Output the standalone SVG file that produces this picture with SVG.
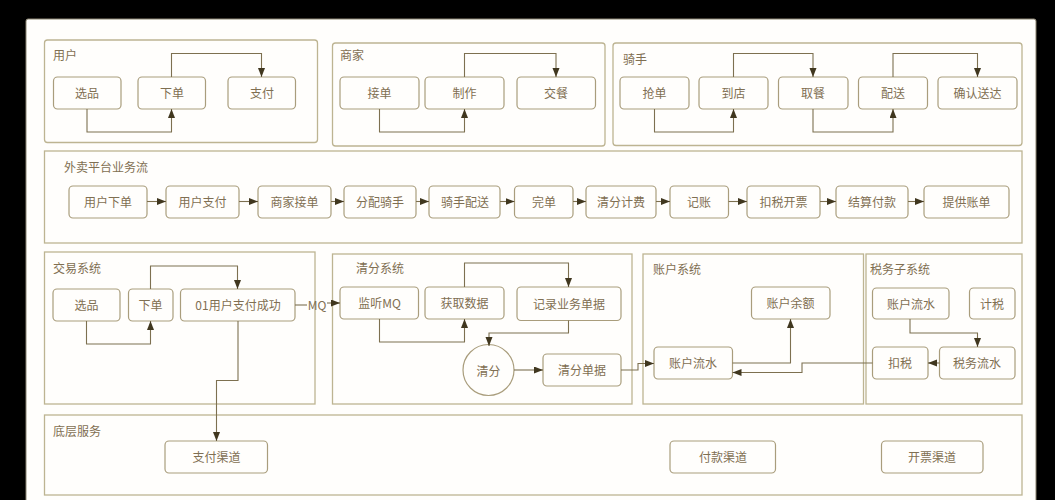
<svg xmlns="http://www.w3.org/2000/svg" width="1055" height="500" viewBox="0 0 1055 500">
<style>
.c{fill:#fffefc;stroke:#bdb492;stroke-width:1.3}
.n rect,.n circle{fill:#fffefc;stroke:#a99d7c;stroke-width:1.2}
text{font-family:"Noto Sans CJK SC","Noto Sans",sans-serif;font-size:12px;fill:#7f6f52;text-anchor:middle;transform:translateY(1px)}
text.t{text-anchor:start}
#connectors path{fill:none;stroke:#7d7050;stroke-width:1.1;marker-end:url(#a)}
#connectors path.p{marker-end:none}
</style>
<defs><marker id="a" markerUnits="userSpaceOnUse" markerWidth="10" markerHeight="8" refX="9" refY="3.5" orient="auto"><path d="M0 0L9 3.5L0 7Z" fill="#40371f"/></marker></defs>
<rect width="1055" height="500" fill="#000"/>
<rect x="26" y="19" width="1010" height="490" rx="2" fill="#fffefc" stroke="#8a8370"/>
<g id="containers">
<g id="c-user"><rect class="c" x="44.5" y="40" width="273" height="102.5" rx="3"/><text class="t" x="53" y="59">用户</text></g>
<g id="c-merchant"><rect class="c" x="332.5" y="43" width="272.5" height="103" rx="3"/><text class="t" x="340" y="59">商家</text></g>
<g id="c-rider"><rect class="c" x="613" y="43" width="409" height="102.5" rx="3"/><text class="t" x="623" y="63">骑手</text></g>
<g id="c-flow"><rect class="c" x="44.5" y="151" width="977.5" height="92"/><text class="t" x="64" y="171">外卖平台业务流</text></g>
<g id="c-trade"><rect class="c" x="44.5" y="252" width="270.5" height="152"/><text class="t" x="53" y="272">交易系统</text></g>
<g id="c-clear"><rect class="c" x="332.5" y="254" width="299.5" height="150"/><text class="t" x="356" y="272">清分系统</text></g>
<g id="c-account"><rect class="c" x="643" y="254" width="220.5" height="150"/><text class="t" x="653" y="273">账户系统</text></g>
<g id="c-tax"><rect class="c" x="866" y="254" width="156" height="150"/><text class="t" x="870" y="273">税务子系统</text></g>
<g id="c-base"><rect class="c" x="44.5" y="415" width="977.5" height="80"/><text class="t" x="53" y="435">底层服务</text></g>
</g>
<g id="n1" class="n"><rect x="53.5" y="77" width="67.5" height="32" rx="4"/><text x="87" y="97">选品</text></g>
<g id="n2" class="n"><rect x="138" y="77" width="67.5" height="32" rx="4"/><text x="172" y="97">下单</text></g>
<g id="n3" class="n"><rect x="228" y="77" width="67.5" height="32" rx="4"/><text x="262" y="97">支付</text></g>
<g id="n4" class="n"><rect x="340" y="77" width="79" height="32" rx="4"/><text x="379.5" y="97">接单</text></g>
<g id="n5" class="n"><rect x="425" y="77" width="79" height="32" rx="4"/><text x="464.5" y="97">制作</text></g>
<g id="n6" class="n"><rect x="517" y="77" width="78.500" height="32" rx="4"/><text x="556" y="97">交餐</text></g>
<g id="n7" class="n"><rect x="620" y="77" width="69" height="32" rx="4"/><text x="654.500" y="97">抢单</text></g>
<g id="n8" class="n"><rect x="699" y="77" width="69" height="32" rx="4"/><text x="733.500" y="97">到店</text></g>
<g id="n9" class="n"><rect x="778.500" y="77" width="69.500" height="32" rx="4"/><text x="813" y="97">取餐</text></g>
<g id="n10" class="n"><rect x="858.500" y="77" width="69" height="32" rx="4"/><text x="893" y="97">配送</text></g>
<g id="n11" class="n"><rect x="938" y="77" width="79" height="32" rx="4"/><text x="977.500" y="97">确认送达</text></g>
<g id="f1" class="n"><rect x="69" y="186" width="78" height="32" rx="4"/><text x="108" y="206">用户下单</text></g>
<g id="f2" class="n"><rect x="166" y="186" width="73" height="32" rx="4"/><text x="202.500" y="206">用户支付</text></g>
<g id="f3" class="n"><rect x="258" y="186" width="73" height="32" rx="4"/><text x="294.500" y="206">商家接单</text></g>
<g id="f4" class="n"><rect x="344" y="186" width="72" height="32" rx="4"/><text x="380" y="206">分配骑手</text></g>
<g id="f5" class="n"><rect x="429" y="186" width="71" height="32" rx="4"/><text x="465" y="206">骑手配送</text></g>
<g id="f6" class="n"><rect x="514.500" y="186" width="58.500" height="32" rx="4"/><text x="544" y="206">完单</text></g>
<g id="f7" class="n"><rect x="586" y="186" width="70" height="32" rx="4"/><text x="621" y="206">清分计费</text></g>
<g id="f8" class="n"><rect x="670" y="186" width="58.500" height="32" rx="4"/><text x="699" y="206">记账</text></g>
<g id="f9" class="n"><rect x="747" y="186" width="73" height="32" rx="4"/><text x="783.500" y="206">扣税开票</text></g>
<g id="f10" class="n"><rect x="836" y="186" width="72" height="32" rx="4"/><text x="872" y="206">结算付款</text></g>
<g id="f11" class="n"><rect x="924" y="186" width="85" height="32" rx="4"/><text x="966.500" y="206">提供账单</text></g>
<g id="t1" class="n"><rect x="53" y="289" width="67" height="32" rx="4"/><text x="86.500" y="309">选品</text></g>
<g id="t2" class="n"><rect x="128.500" y="289" width="44.500" height="32" rx="4"/><text x="150.500" y="309">下单</text></g>
<g id="t3" class="n"><rect x="180.500" y="289" width="114.500" height="32" rx="4"/><text x="238" y="309">01用户支付成功</text></g>
<g id="q1" class="n"><rect x="340" y="287" width="78.500" height="32" rx="4"/><text x="379.500" y="307">监听MQ</text></g>
<g id="q2" class="n"><rect x="425" y="287" width="79" height="32" rx="4"/><text x="464.500" y="307">获取数据</text></g>
<g id="q3" class="n"><rect x="517" y="287" width="104" height="33.500" rx="4"/><text x="569" y="308">记录业务单据</text></g>
<g id="q4" class="n"><circle cx="488.500" cy="370" r="25.500"/><text x="488.500" y="375">清分</text></g>
<g id="q5" class="n"><rect x="543" y="354" width="78" height="32" rx="4"/><text x="582" y="374">清分单据</text></g>
<g id="a1" class="n"><rect x="654" y="347" width="78.500" height="32" rx="4"/><text x="693" y="367">账户流水</text></g>
<g id="a2" class="n"><rect x="751.500" y="287" width="78.500" height="32" rx="4"/><text x="790.500" y="307">账户余额</text></g>
<g id="x1" class="n"><rect x="872.500" y="288" width="76.500" height="31" rx="4"/><text x="911" y="308">账户流水</text></g>
<g id="x2" class="n"><rect x="969.500" y="288" width="45.500" height="31" rx="4"/><text x="992" y="308">计税</text></g>
<g id="x3" class="n"><rect x="872.500" y="347" width="55.500" height="32" rx="4"/><text x="900" y="367">扣税</text></g>
<g id="x4" class="n"><rect x="939.500" y="347" width="75.500" height="32" rx="4"/><text x="977" y="367">税务流水</text></g>
<g id="b1" class="n"><rect x="165" y="441" width="102.500" height="32" rx="4"/><text x="216.500" y="461">支付渠道</text></g>
<g id="b2" class="n"><rect x="670" y="441" width="105.500" height="32" rx="4"/><text x="723" y="461">付款渠道</text></g>
<g id="b3" class="n"><rect x="881.500" y="441" width="101.500" height="32" rx="4"/><text x="932" y="461">开票渠道</text></g>
<g id="connectors">
<path d="M87 109V132H171.500V109"/>
<path d="M171.500 77V53.500H261.500V77"/>
<path d="M379.500 109V132H464.500V109"/>
<path d="M464.500 77V53.500H556V77"/>
<path d="M654.500 109V132H733.500V109"/>
<path d="M733.500 77V53.500H813V77"/>
<path d="M813 109V132H893V109"/>
<path d="M893 77V53.500H977.500V77"/>
<path d="M147 201.500H166"/><path d="M239 201.500H258"/><path d="M331 201.500H344"/><path d="M416 201.500H429"/><path d="M500 201.500H514.500"/><path d="M573 201.500H586"/><path d="M656 201.500H670"/><path d="M728.500 201.500H747"/><path d="M820 201.500H836"/><path d="M908 201.500H924"/>
<path d="M86.500 321V344H150.500V321"/>
<path d="M150.500 289V266H237.500V289"/>
<path d="M238 321V380.500H216.500V441"/>
<path class="p" d="M295 305H307"/>
<path d="M327 303H340"/>
<path d="M379.500 319V342H464.500V319"/>
<path d="M464.500 287V263H568.500V287"/>
<path d="M568.500 320.500V333H489V346"/>
<path d="M514 370H543"/>
<path d="M621 370H638V363.500H654"/>
<path d="M732.500 363H790.500V319"/>
<path d="M910 319V333H977.500V347"/>
<path d="M939.500 363H928"/>
<path d="M872.500 363H802V372.500H732.500"/>
</g>
<text x="317" y="309">MQ</text>
</svg>
